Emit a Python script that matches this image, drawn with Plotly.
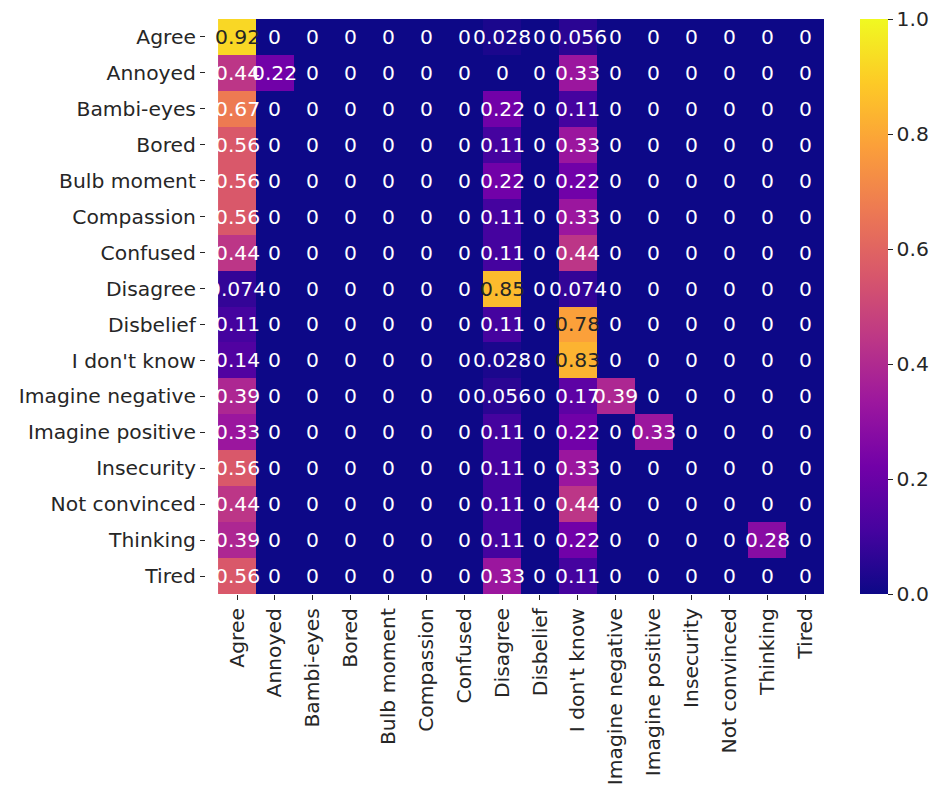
import plotly.graph_objects as go

labels = ["Agree", "Annoyed", "Bambi-eyes", "Bored", "Bulb moment", "Compassion",
          "Confused", "Disagree", "Disbelief", "I don't know", "Imagine negative",
          "Imagine positive", "Insecurity", "Not convinced", "Thinking", "Tired"]

row_agree = [0.92, 0, 0, 0, 0, 0, 0, 0.028, 0, 0.056, 0, 0, 0, 0, 0, 0]
row_annoyed = [0.44, 0.22, 0, 0, 0, 0, 0, 0, 0, 0.33, 0, 0, 0, 0, 0, 0]
row_bambi = [0.67, 0, 0, 0, 0, 0, 0, 0.22, 0, 0.11, 0, 0, 0, 0, 0, 0]
row_bored = [0.56, 0, 0, 0, 0, 0, 0, 0.11, 0, 0.33, 0, 0, 0, 0, 0, 0]
row_bulb = [0.56, 0, 0, 0, 0, 0, 0, 0.22, 0, 0.22, 0, 0, 0, 0, 0, 0]
row_compassion = [0.56, 0, 0, 0, 0, 0, 0, 0.11, 0, 0.33, 0, 0, 0, 0, 0, 0]
row_confused = [0.44, 0, 0, 0, 0, 0, 0, 0.11, 0, 0.44, 0, 0, 0, 0, 0, 0]
row_disagree = [0.074, 0, 0, 0, 0, 0, 0, 0.85, 0, 0.074, 0, 0, 0, 0, 0, 0]
row_disbelief = [0.11, 0, 0, 0, 0, 0, 0, 0.11, 0, 0.78, 0, 0, 0, 0, 0, 0]
row_dontknow = [0.14, 0, 0, 0, 0, 0, 0, 0.028, 0, 0.83, 0, 0, 0, 0, 0, 0]
row_imneg = [0.39, 0, 0, 0, 0, 0, 0, 0.056, 0, 0.17, 0.39, 0, 0, 0, 0, 0]
row_impos = [0.33, 0, 0, 0, 0, 0, 0, 0.11, 0, 0.22, 0, 0.33, 0, 0, 0, 0]
row_insecurity = [0.56, 0, 0, 0, 0, 0, 0, 0.11, 0, 0.33, 0, 0, 0, 0, 0, 0]
row_notconv = [0.44, 0, 0, 0, 0, 0, 0, 0.11, 0, 0.44, 0, 0, 0, 0, 0, 0]
row_thinking = [0.39, 0, 0, 0, 0, 0, 0, 0.11, 0, 0.22, 0, 0, 0, 0, 0.28, 0]
row_tired = [0.56, 0, 0, 0, 0, 0, 0, 0.33, 0, 0.11, 0, 0, 0, 0, 0, 0]

z = [row_agree, row_annoyed, row_bambi, row_bored, row_bulb, row_compassion,
     row_confused, row_disagree, row_disbelief, row_dontknow, row_imneg,
     row_impos, row_insecurity, row_notconv, row_thinking, row_tired]

colorbar_ticks = [0.0, 0.2, 0.4, 0.6, 0.8, 1.0]

FONT = "DejaVu Sans"
FS = 20.3
INK = "#262626"

fig = go.Figure()
fig.add_trace(go.Heatmap(
    z=z, x=labels, y=labels,
    colorscale="Plasma", zmin=0, zmax=1.0,
    colorbar=dict(
        x=1.058, xanchor="left", xref="paper", xpad=0, ypad=0,
        y=0.5, yanchor="middle", len=1.0, lenmode="fraction",
        thickness=28, outlinewidth=0,
        tickmode="array",
        tickvals=colorbar_ticks,
        ticktext=[f"{t:.1f}" for t in colorbar_ticks],
        ticklabeloverflow="allow",
        ticks="outside", ticklen=5, tickcolor=INK,
        tickfont=dict(family=FONT, size=FS, color=INK),
    ),
    hoverinfo="skip",
))

annotations = []
for i, row in enumerate(z):
    for j, v in enumerate(row):
        txt = format(v, ".2g")
        col = INK if v >= 0.75 else "#ffffff"
        annotations.append(dict(
            x=labels[j], y=labels[i], text=txt, showarrow=False,
            xref="x", yref="y",
            font=dict(family=FONT, size=FS, color=col),
        ))

fig.update_layout(
    width=938, height=789,
    margin=dict(l=198, r=122, t=11, b=203),
    paper_bgcolor="white", plot_bgcolor="white",
    annotations=annotations,
    xaxis=dict(
        tickangle=-90, ticks="outside", ticklen=5, tickcolor=INK,
        tickfont=dict(family=FONT, size=FS, color=INK),
        showgrid=False, zeroline=False, showline=False,
    ),
    yaxis=dict(
        autorange="reversed", ticks="outside", ticklen=5, tickcolor=INK,
        tickfont=dict(family=FONT, size=FS, color=INK),
        showgrid=False, zeroline=False, showline=False,
    ),
)

fig.write_html("out.html")
